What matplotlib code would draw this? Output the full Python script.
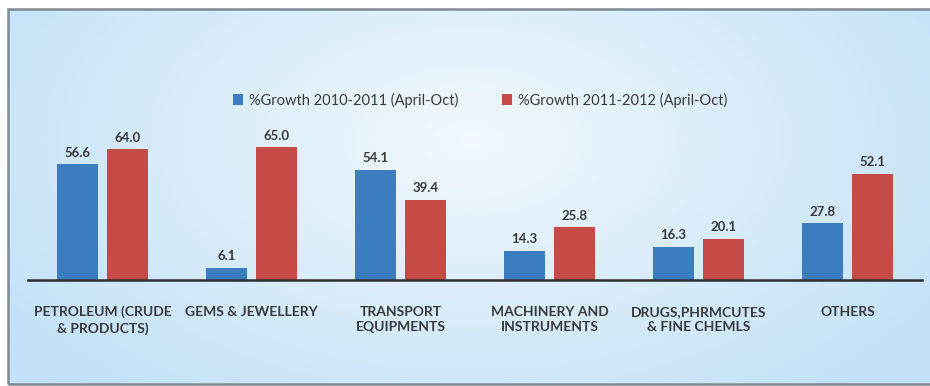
import numpy as np
import matplotlib.pyplot as plt
from matplotlib.patches import Rectangle
from matplotlib.colors import LinearSegmentedColormap

# export growth by sector, two periods
sectors = ["PETROLEUM (CRUDE\n& PRODUCTS)", "GEMS & JEWELLERY", "TRANSPORT\nEQUIPMENTS",
           "MACHINERY AND\nINSTRUMENTS", "DRUGS,PHRMCUTES\n& FINE CHEMLS", "OTHERS"]
growth_1011 = [56.6, 6.1, 54.1, 14.3, 16.3, 27.8]
growth_1112 = [64.0, 65.0, 39.4, 25.8, 20.1, 52.1]
series_names = ["%Growth 2010-2011 (April-Oct)", "%Growth 2011-2012 (April-Oct)"]

blue = "#3b7dbf"
red = "#c64a45"
txt = "#3a3a3a"

plt.rcParams['font.family'] = ['Lato', 'DejaVu Sans']

fig = plt.figure(figsize=(9.3, 3.86), dpi=100)
fig.patch.set_facecolor("white")

# soft radial backdrop inside the frame
W, H = 930, 386
fx0, fx1 = 8 / W, 1.0
fy0, fy1 = 2 / H, 1 - 9 / H
bg = fig.add_axes([fx0, fy0, fx1 - fx0, fy1 - fy0])
yy, xx = np.mgrid[0:1:200j, 0:1:400j]
r = np.sqrt(((xx - 0.5) / 0.62) ** 2 + ((yy - 0.35) / 0.9) ** 2)
r = np.clip(r, 0, 1)
cmap = LinearSegmentedColormap.from_list("bgfade", ["#f2f8fd", "#d9ecf9", "#c2e1f7"])
bg.imshow(r, cmap=cmap, aspect="auto", extent=[0, 1, 0, 1], vmin=0, vmax=1)
bg.set_xlim(0, 1)
bg.set_ylim(0, 1)
bg.axis("off")
fig.patches.append(Rectangle((fx0, fy0), fx1 - fx0 + 0.01, fy1 - fy0, transform=fig.transFigure,
                             fill=False, edgecolor="#7d8a93", linewidth=1.8, zorder=5))

ax = fig.add_axes([28 / W, 1 - 280 / H, 894 / W, 147 / H])
ax.patch.set_alpha(0)
x = np.arange(len(sectors))
w = 0.27
off = 0.168
b1 = ax.bar(x - off, growth_1011, w, color=blue, label=series_names[0])
b2 = ax.bar(x + off, growth_1112, w, color=red, label=series_names[1])

for bars, vals in ((b1, growth_1011), (b2, growth_1112)):
    for b, v in zip(bars, vals):
        ax.annotate(f"{v:.1f}", (b.get_x() + b.get_width() / 2, v), xytext=(0, 4),
                    textcoords="offset points", ha="center", va="bottom",
                    fontsize=9.5, fontweight="bold", color=txt)

ax.set_xlim(-0.5, len(sectors) - 0.5)
ax.set_ylim(0, 72)
ax.set_xticks(x)
ax.set_xticklabels(sectors, fontsize=10, fontweight="bold", color=txt, linespacing=1.35)
ax.tick_params(axis="x", length=0, pad=18.5)
ax.set_yticks([])
for s in ("top", "right", "left"):
    ax.spines[s].set_visible(False)
ax.spines["bottom"].set_color("#2f2f2f")
ax.spines["bottom"].set_linewidth(1.8)

fig.legend(handles=[b1, b2], loc="center", bbox_to_anchor=(0.516, 1 - 100 / H), ncol=2,
           frameon=False, fontsize=10.5, handlelength=0.7, handleheight=0.7,
           handletextpad=0.4, columnspacing=3.0, labelcolor=txt)

fig.savefig("out.png", dpi=100)
